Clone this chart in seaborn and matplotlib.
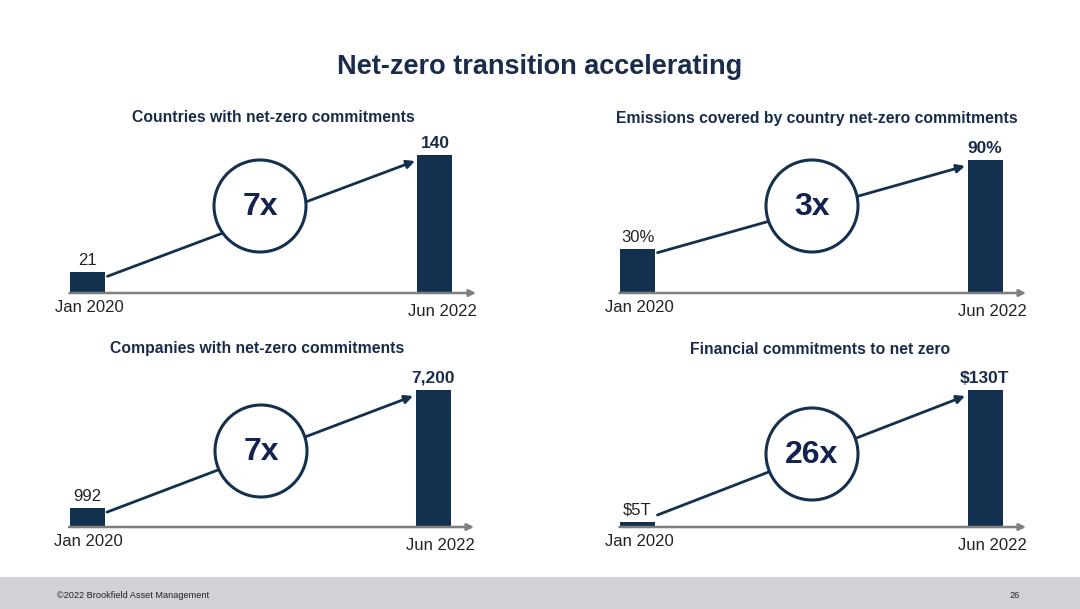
import numpy as np
import pandas as pd
import seaborn as sns
import matplotlib.pyplot as plt
from matplotlib.patches import Circle, Rectangle

sns.set_theme(style="white")
plt.rcParams["font.family"] = ["Liberation Sans", "DejaVu Sans"]

W, H = 1080, 609
NAVY = "#14304F"
TXT = "#1B2B4B"
MULT = "#13224F"
GRAY = "#7F7F7F"

# data
periods = ["Jan 2020", "Jun 2022"]
titles = ["Countries with net-zero commitments",
          "Emissions covered by country net-zero commitments",
          "Companies with net-zero commitments",
          "Financial commitments to net zero"]
countries = [21, 140]
emissions = [30, 90]          # % of global emissions
companies = [992, 7200]
financial = [5, 130]          # $ trillions
value_labels = [["21", "140"], ["30%", "90%"], ["992", "7,200"], ["$5T", "$130T"]]
multiples = ["7x", "3x", "7x", "26x"]
series = [countries, emissions, companies, financial]

# layout in pixels: bar centres, baseline, tallest bar height, circle centre, title centre
panels = [
    dict(c=(87.5, 435), base=293, top=138, circ=(260, 206), title=(273, 118)),
    dict(c=(637.5, 985), base=293, top=133, circ=(812, 206), title=(817, 118)),
    dict(c=(87, 433), base=527, top=137, circ=(261, 451), title=(257, 349)),
    dict(c=(637.5, 985), base=527, top=137, circ=(812, 454), title=(820, 349)),
]

fig = plt.figure(figsize=(W / 100, H / 100), dpi=100)
fig.patch.set_facecolor("white")

fig.text(0.5, 1 - 67 / H, "Net-zero transition accelerating", ha="center", va="center",
         fontsize=19.5, fontweight="bold", color=TXT)

for i, p in enumerate(panels):
    c0, c1 = p["c"]
    s = c1 - c0  # pixels per category step
    x0 = c0 - 45
    x1 = c1 + 60
    ax_h = 175
    ax = fig.add_axes([x0 / W, 1 - p["base"] / H, (x1 - x0) / W, ax_h / H])
    df = pd.DataFrame({"period": periods, "value": series[i]})
    sns.barplot(data=df, x="period", y="value", ax=ax, color=NAVY, width=35 / s,
                saturation=1, edgecolor="none")
    scale = p["top"] / max(series[i])  # px per unit
    ax.set_xlim((x0 - c0) / s, (x1 - c0) / s)
    ax.set_ylim(0, ax_h / scale)
    ax.set_axis_off()
    ax.patch.set_alpha(0)

    # baseline arrow
    ax.annotate("", xy=((c1 + 41 - c0) / s, 0), xytext=(-18 / s, 0),
                arrowprops=dict(arrowstyle="-|>", color=GRAY, lw=1.8, mutation_scale=10,
                                shrinkA=0, shrinkB=0), annotation_clip=False)

    # growth arrow
    v0, v1 = series[i]
    y_start = max(v0 * scale - 4, 12) / scale
    y_end = (v1 * scale - 6) / scale
    ax.annotate("", xy=(1 - 20 / s, y_end), xytext=(20 / s, y_start),
                arrowprops=dict(arrowstyle="-|>", color=NAVY, lw=2, mutation_scale=12,
                                shrinkA=0, shrinkB=0))

    # value labels
    for j, (v, lab) in enumerate(zip(series[i], value_labels[i])):
        ax.annotate(lab, xy=(j, v), xytext=(0, 3), textcoords="offset points",
                    ha="center", va="bottom", fontsize=12.5 if j else 12,
                    fontweight="bold" if j else "normal", color=TXT if j else "#222222")
    # period labels
    ax.annotate(periods[0], xy=(0, 0), xytext=(1, -5), textcoords="offset points",
                ha="center", va="top", fontsize=12, color="#222222")
    ax.annotate(periods[1], xy=(1, 0), xytext=(5, -8), textcoords="offset points",
                ha="center", va="top", fontsize=12, color="#222222")

    # multiple circle
    cx, cy = p["circ"]
    fig.patches.append(Circle((cx / 100, (H - cy) / 100), 0.46, transform=fig.dpi_scale_trans,
                              facecolor="white", edgecolor=NAVY, lw=2.2, zorder=2))
    fig.text(cx / W, 1 - (cy + 1) / H, multiples[i], ha="center", va="center", fontsize=23,
             fontweight="bold", color=MULT, zorder=3)

    tx, ty = p["title"]
    fig.text(tx / W, 1 - ty / H, titles[i], ha="center", va="center", fontsize=11.3,
             fontweight="bold", color=TXT)

# footer band
fig.patches.append(Rectangle((0, 0), 1, (H - 577) / H, transform=fig.transFigure,
                             facecolor="#D2D1D8", edgecolor="none", zorder=0))
fig.text(57 / W, 1 - 595 / H, "\u00a92022 Brookfield Asset Management", ha="left", va="center",
         fontsize=6.6, color="#222222")
fig.text(1015 / W, 1 - 595 / H, "26", ha="center", va="center", fontsize=6.6, color="#222222")

fig.savefig("out.png", dpi=100)
